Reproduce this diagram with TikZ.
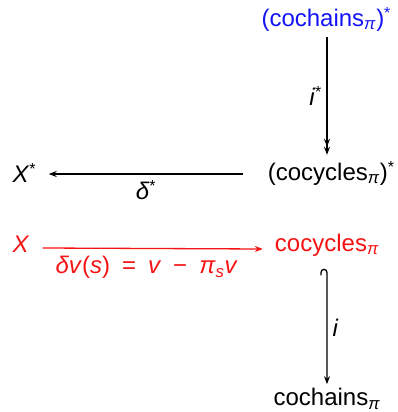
\documentclass[tikz,border=0pt]{standalone}
\usepackage{fontspec}
\setmainfont{Liberation Sans}
\usetikzlibrary{arrows.meta,calc}
\definecolor{myblue}{RGB}{20,20,245}
\definecolor{myred}{RGB}{245,20,20}
\newcommand{\mi}[1]{\textit{#1}}
\newcommand{\st}{\raisebox{8pt}{\fontsize{16}{16}\selectfont *}}
\newcommand{\sbp}{\textsubscript{\mi{π}}}
\newcommand{\op}[1]{\hspace{0.5em}#1\hspace{0.5em}}
\begin{document}
\begin{tikzpicture}[x=1pt,y=-1pt,
  lbl/.style={font=\fontsize{24}{28}\selectfont, inner sep=2pt},
  tip/.style={-{Stealth[length=8pt,width=6pt]}},
  conn/.style={line width=1.3pt, tip},
  dconn/.style={line width=1.3pt, -{Stealth[length=8pt,width=6pt]Stealth[length=8pt,width=6pt]}},
  elbl/.style={font=\fontsize{24}{28}\selectfont, inner sep=1pt}]
\useasboundingbox (0,0) rectangle (398,412);
\node[lbl, text=myblue] (cochS) at (326,19) {(cochains\sbp)\st};
\node[lbl] (cocyS) at (331,173) {(cocycles\sbp)\st};
\node[lbl] (Xs) at (24,173) {\mi{X}\st};
\node[lbl, text=myred] (X) at (21,244) {\mi{X}};
\node[lbl, text=myred] (cocy) at (327,245) {cocycles\sbp};
\node[lbl] (coch) at (327,399) {cochains\sbp};
\coordinate (a1) at ($(cochS.south -| cocy.center)+(0,4)$);
\coordinate (a2) at ($(cocyS.north -| cocy.center)+(0,-4)$);
\draw[dconn] (a1) -- (a2) node[midway, left=4pt, elbl] {\mi{i}\st};
\draw[conn] ($(cocyS.west)+(-23,1)$) -- ($(Xs.east)+(11,1)$) node[midway, below=5pt, elbl] {\mi{δ}\st};
\draw[conn, myred] ($(X.east)+(11,4)$) -- ($(cocy.west)+(-10,4)$) node[midway, below=6pt, xshift=-6pt, elbl, text=myred] {\mi{δv}(\mi{s})\op{=}\mi{v}\op{−}\mi{π}\textsubscript{\mi{s}}\mi{v}};
\coordinate (b1) at ($(cocy.south)+(-6,17)$);
\coordinate (b2) at ($(coch.north)+(0,-2)$);
\draw[conn] (b1) -- ++(0,-3) arc[start angle=180, end angle=0, radius=3pt] -- (b2) node[pos=0.5, right=4pt, elbl] {\mi{i}};
\end{tikzpicture}
\end{document}
